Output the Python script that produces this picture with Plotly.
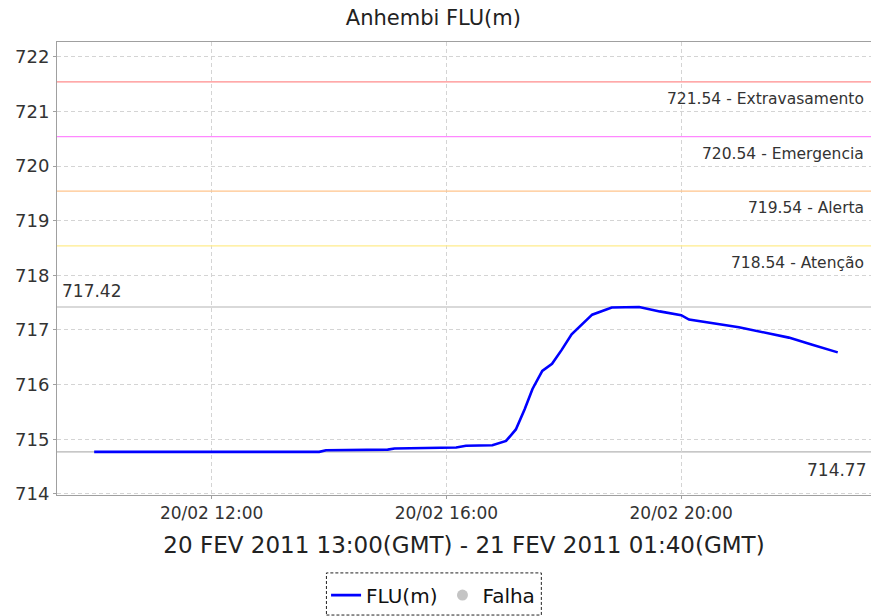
import plotly.graph_objects as go

# ---- data ----
times = ["2011-02-20 10:00", "2011-02-20 11:00", "2011-02-20 12:00", "2011-02-20 13:00",
         "2011-02-20 13:50", "2011-02-20 13:57", "2011-02-20 14:30", "2011-02-20 15:00",
         "2011-02-20 15:07", "2011-02-20 15:53", "2011-02-20 16:10", "2011-02-20 16:20",
         "2011-02-20 16:47", "2011-02-20 17:01", "2011-02-20 17:11", "2011-02-20 17:20",
         "2011-02-20 17:28", "2011-02-20 17:38", "2011-02-20 17:48", "2011-02-20 17:58",
         "2011-02-20 18:08", "2011-02-20 18:29", "2011-02-20 18:49", "2011-02-20 19:17",
         "2011-02-20 19:38", "2011-02-20 20:00", "2011-02-20 20:08", "2011-02-20 20:59",
         "2011-02-20 21:50", "2011-02-20 22:14", "2011-02-20 22:40"]
flu = [714.77, 714.77, 714.77, 714.77,
       714.77, 714.80, 714.80, 714.81,
       714.83, 714.84, 714.85, 714.88,
       714.89, 714.97, 715.18, 715.55,
       715.92, 716.25, 716.38, 716.64,
       716.92, 717.28, 717.41, 717.42,
       717.34, 717.27, 717.19, 717.05,
       716.86, 716.73, 716.59]

threshold_values = [721.54, 720.54, 719.54, 718.54]
threshold_names = ["Extravasamento", "Emergencia", "Alerta", "Atenção"]
threshold_colors = ["#ff8c8c", "#ff88ff", "#ffc48c", "#ffec8c"]

max_value = 717.42
min_value = 714.77

x_tick_vals = ["2011-02-20 12:00", "2011-02-20 16:00", "2011-02-20 20:00"]
x_tick_text = ["20/02 12:00", "20/02 16:00", "20/02 20:00"]
y_tick_vals = [714, 715, 716, 717, 718, 719, 720, 721, 722]

x_range = ["2011-02-20 09:22", "2011-02-20 23:14"]
y_range = [713.98, 722.27]

FONT = "DejaVu Sans"

fig = go.Figure()
fig.add_trace(go.Scatter(x=times, y=flu, mode="lines", name="FLU(m)",
                         line=dict(color="#0000ff", width=2.6)))
fig.add_trace(go.Scatter(x=[None], y=[None], mode="markers", name="Falha",
                         marker=dict(color="#c4c4c4", size=11, symbol="circle")))

shapes = []
annotations = []
for v, n, c in zip(threshold_values, threshold_names, threshold_colors):
    shapes.append(dict(type="line", xref="paper", x0=0, x1=1, yref="y", y0=v, y1=v,
                       line=dict(color=c, width=1.3), layer="above"))
    annotations.append(dict(xref="paper", x=0.994, yref="y", y=v, yshift=-17,
                            text=f"{v:.2f} - {n}", showarrow=False, xanchor="right",
                            yanchor="middle", font=dict(family=FONT, size=15.5, color="#333333")))
for v in (max_value, min_value):
    shapes.append(dict(type="line", xref="paper", x0=0, x1=1, yref="y", y0=v, y1=v,
                       line=dict(color="#b4b4b4", width=1.2), layer="below"))
annotations.append(dict(xref="paper", x=0.004, yref="y", y=max_value, yshift=16,
                        text=f"{max_value:.2f}", showarrow=False, xanchor="left",
                        yanchor="middle", font=dict(family=FONT, size=17, color="#333333")))
annotations.append(dict(xref="paper", x=0.996, yref="y", y=min_value, yshift=-18,
                        text=f"{min_value:.2f}", showarrow=False, xanchor="right",
                        yanchor="middle", font=dict(family=FONT, size=17, color="#333333")))
# dashed legend frame
shapes.append(dict(type="rect", xref="paper", yref="paper", x0=0.331, x1=0.595,
                   y0=-0.265, y1=-0.172, line=dict(color="#222222", width=1, dash="3px,2px"),
                   fillcolor="rgba(0,0,0,0)"))

fig.update_layout(
    width=872, height=616,
    margin=dict(l=57, r=1, t=42, b=121, autoexpand=False),
    paper_bgcolor="white", plot_bgcolor="white",
    title=dict(text="Anhembi FLU(m)", x=0.497, xanchor="center", y=0.971, yanchor="middle",
               font=dict(family=FONT, size=21, color="#222222")),
    font=dict(family=FONT, color="#333333"),
    showlegend=True,
    legend=dict(orientation="h", x=0.462, xanchor="center", y=-0.221, yanchor="middle",
                font=dict(family=FONT, size=20, color="#111111"),
                bgcolor="rgba(0,0,0,0)", borderwidth=0, itemwidth=30,
                tracegroupgap=0),
    shapes=shapes, annotations=annotations,
)
fig.update_xaxes(range=x_range, type="date", tickvals=x_tick_vals, ticktext=x_tick_text,
                 automargin=False,
                 showgrid=True, gridcolor="#d4d4d4", griddash="4px,3px", gridwidth=1,
                 showline=True, linecolor="#a0a0a0", linewidth=1, mirror=True,
                 ticks="outside", ticklen=3, tickcolor="#a0a0a0",
                 tickfont=dict(family=FONT, size=17, color="#333333"),
                 title=dict(text="20 FEV 2011 13:00(GMT) - 21 FEV 2011 01:40(GMT)",
                            font=dict(family=FONT, size=23, color="#222222"), standoff=14),
                 zeroline=False)
fig.update_yaxes(range=y_range, tickvals=y_tick_vals, automargin=False,
                 showgrid=True, gridcolor="#d4d4d4", griddash="4px,3px", gridwidth=1,
                 showline=True, linecolor="#a0a0a0", linewidth=1,
                 ticks="outside", ticklen=3, tickcolor="#a0a0a0",
                 tickfont=dict(family=FONT, size=18, color="#333333"),
                 zeroline=False)

fig.write_html("out.html", config={"displayModeBar": False},
               post_script="document.body.style.margin='0';")
